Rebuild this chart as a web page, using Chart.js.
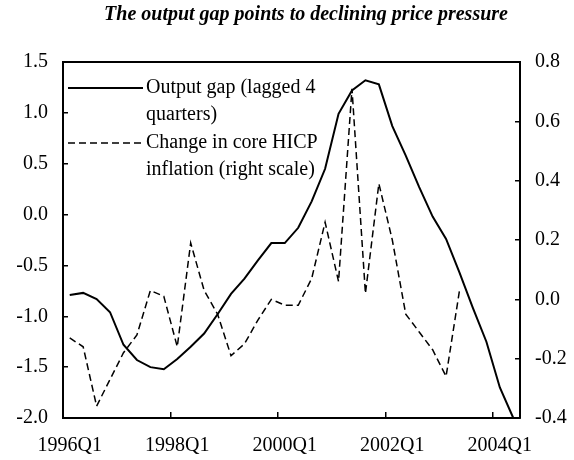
<!DOCTYPE html>
<html>
<head>
<meta charset="utf-8">
<title>Output gap and core HICP</title>
<script src="https://cdn.jsdelivr.net/npm/chart.js@4"></script>
<style>
  html, body { margin: 0; padding: 0; background: #fff; }
  #wrap { width: 574px; height: 460px; }
</style>
</head>
<body>
<div id="wrap"><canvas id="gapChart" width="574" height="460"></canvas></div>
<script>
// Quarters on the x axis (one label shown every 8 quarters)
const quarters = [
  '1996Q1', '1996Q2', '1996Q3', '1996Q4', '1997Q1', '1997Q2', '1997Q3', '1997Q4',
  '1998Q1', '1998Q2', '1998Q3', '1998Q4', '1999Q1', '1999Q2', '1999Q3', '1999Q4',
  '2000Q1', '2000Q2', '2000Q3', '2000Q4', '2001Q1', '2001Q2', '2001Q3', '2001Q4',
  '2002Q1', '2002Q2', '2002Q3', '2002Q4', '2003Q1', '2003Q2', '2003Q3', '2003Q4',
  '2004Q1', '2004Q2'
];

// Output gap, lagged 4 quarters (left scale)
const outputGap = [
  -0.79, -0.77, -0.83, -0.96, -1.28, -1.43, -1.50, -1.52,
  -1.42, -1.30, -1.17, -0.98, -0.78, -0.63, -0.45, -0.28,
  -0.28, -0.13, 0.13, 0.45, 0.99, 1.22, 1.32, 1.28,
  0.87, 0.58, 0.27, -0.02, -0.24, -0.57, -0.92, -1.25,
  -1.70, -2.00
];

// Change in core HICP inflation (right scale)
const coreHicpChange = [
  -0.13, -0.16, -0.36, -0.27, -0.18, -0.12, 0.03, 0.01,
  -0.16, 0.19, 0.03, -0.05, -0.19, -0.15, -0.07, 0.00,
  -0.02, -0.02, 0.07, 0.26, 0.06, 0.71, 0.02, 0.39,
  0.20, -0.05, -0.11, -0.17, -0.26, 0.03, null, null,
  null, null
];

const titleText = 'The output gap points to declining price pressure';
const legendLines = [
  ['Output gap (lagged 4', 'quarters)'],
  ['Change in core HICP', 'inflation (right scale)']
];

const serif = '"Liberation Serif", "Times New Roman", serif';

// Titre, cadre du haut et légende dans le graphique
const decorPlugin = {
  id: 'decor',
  afterDraw(chart) {
    const { ctx, chartArea: a } = chart;
    ctx.save();
    ctx.fillStyle = '#000';
    ctx.strokeStyle = '#000';

    ctx.font = 'italic bold 20px ' + serif;
    ctx.textAlign = 'center';
    ctx.textBaseline = 'middle';
    ctx.fillText(titleText, 306, 15);

    ctx.lineWidth = 2;
    ctx.beginPath();
    ctx.moveTo(a.left, a.top);
    ctx.lineTo(a.right, a.top);
    ctx.stroke();

    ctx.font = '20px ' + serif;
    ctx.textAlign = 'left';
    chart.data.datasets.forEach((ds, i) => {
      const y = a.top + 26 + i * 55;
      ctx.lineWidth = ds.borderWidth;
      ctx.setLineDash(ds.borderDash || []);
      ctx.beginPath();
      ctx.moveTo(a.left + 5, y);
      ctx.lineTo(a.left + 80, y);
      ctx.stroke();
      ctx.setLineDash([]);
      legendLines[i].forEach((t, j) => ctx.fillText(t, a.left + 83, y + j * 27));
    });
    ctx.restore();
  }
};

const tickFont = { family: serif, size: 20 };

new Chart(document.getElementById('gapChart'), {
  type: 'line',
  data: {
    labels: quarters,
    datasets: [{
      label: 'Output gap (lagged 4 quarters)',
      data: outputGap,
      yAxisID: 'y',
      borderColor: '#000',
      borderWidth: 2,
      pointRadius: 0,
      tension: 0
    }, {
      label: 'Change in core HICP inflation (right scale)',
      data: coreHicpChange,
      yAxisID: 'y1',
      borderColor: '#000',
      borderWidth: 1.5,
      borderDash: [7, 4],
      pointRadius: 0,
      tension: 0
    }]
  },
  options: {
    responsive: false,
    animation: false,
    devicePixelRatio: 1,
    events: [],
    layout: { padding: { top: 62, left: 0, right: 0, bottom: 0 } },
    plugins: {
      legend: { display: false },
      title: { display: false },
      tooltip: { enabled: false }
    },
    scales: {
      x: {
        type: 'category',
        offset: true,
        grid: {
          offset: true,
          drawOnChartArea: false,
          tickLength: -6,
          lineWidth: 1.5,
          color: c => (c.index !== undefined && c.index % 8 === 0) ? '#000' : 'rgba(0,0,0,0)'
        },
        border: { color: '#000', width: 2 },
        ticks: {
          autoSkip: false,
          maxRotation: 0,
          padding: 22,
          color: '#000',
          font: tickFont,
          callback: (v, i) => i % 8 === 0 ? quarters[i] : ''
        },
        afterFit: s => { s.height = 42; }
      },
      y: {
        position: 'left',
        min: -2,
        max: 1.5,
        grid: { drawOnChartArea: false, tickLength: -5, color: '#000', lineWidth: 1.5 },
        border: { color: '#000', width: 2 },
        ticks: {
          stepSize: 0.5,
          padding: 20,
          color: '#000',
          font: tickFont,
          callback: v => v.toFixed(1)
        },
        afterFit: s => { s.width = 63; }
      },
      y1: {
        position: 'right',
        min: -0.4,
        max: 0.8,
        grid: { drawOnChartArea: false, tickLength: -5, color: '#000', lineWidth: 1.5 },
        border: { color: '#000', width: 2 },
        ticks: {
          stepSize: 0.2,
          padding: 20,
          color: '#000',
          font: tickFont,
          callback: v => v.toFixed(1)
        },
        afterFit: s => { s.width = 54; }
      }
    }
  },
  plugins: [decorPlugin]
});
</script>
</body>
</html>
